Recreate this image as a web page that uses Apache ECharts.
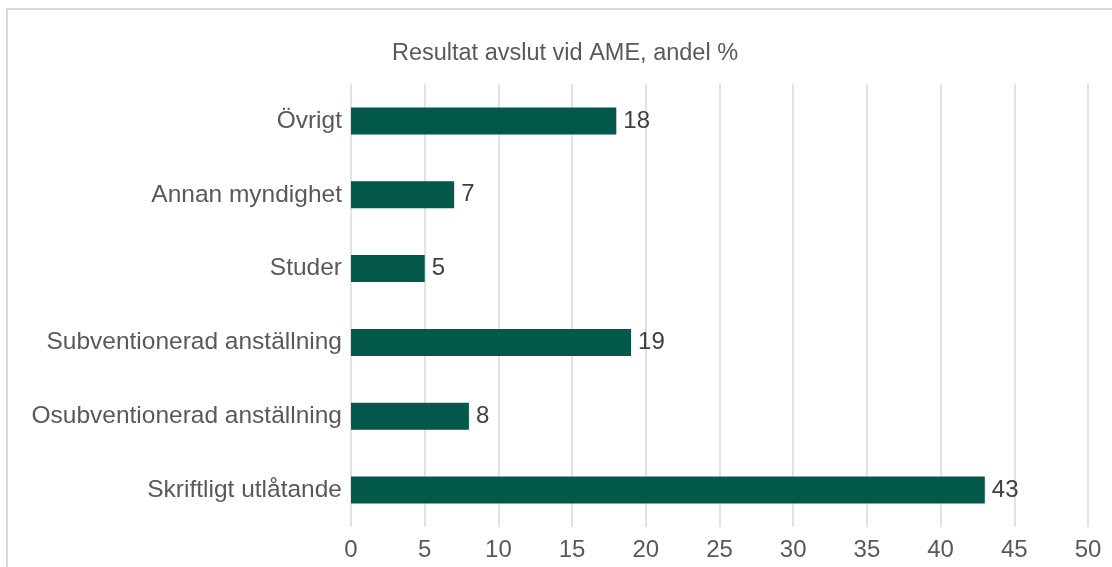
<!DOCTYPE html>
<html>
<head>
<meta charset="utf-8">
<script src="https://cdn.jsdelivr.net/npm/echarts@6/dist/echarts.min.js"></script>
<style>
  html, body { margin: 0; padding: 0; background: #fff; }
  #chart { width: 1112px; height: 567px; }
</style>
</head>
<body>
<div id="chart"></div>
<script>
const categories = ['Övrigt', 'Annan myndighet', 'Studer', 'Subventionerad anställning', 'Osubventionerad anställning', 'Skriftligt utlåtande'];
const values = [18, 7, 5, 19, 8, 43];
const xTicks = [0, 5, 10, 15, 20, 25, 30, 35, 40, 45, 50];
const titleText = 'Resultat avslut vid AME, andel %';

const font = '"Liberation Sans", Arial, sans-serif';
const chart = echarts.init(document.getElementById('chart'));
chart.setOption({
  animation: false,
  backgroundColor: '#fff',
  title: {
    text: titleText,
    left: 560,
    top: 37,
    textAlign: 'center',
    textStyle: { fontFamily: font, fontSize: 23.5, fontWeight: 'normal', color: '#595959' },
  },
  graphic: [{
    type: 'rect',
    shape: { x: 7, y: 9, width: 1200, height: 700 },
    style: { fill: 'none', stroke: '#d9d9d9', lineWidth: 2 },
    silent: true,
  }],
  grid: { left: 351, right: 24, top: 84, bottom: 40, containLabel: false },
  xAxis: {
    type: 'value',
    min: xTicks[0],
    max: xTicks[xTicks.length - 1],
    interval: 5,
    axisLine: { show: false },
    axisTick: { show: false },
    axisLabel: { fontFamily: font, fontSize: 24, color: '#595959', margin: 11 },
    splitLine: { lineStyle: { color: '#d9d9d9', width: 1.5 } },
  },
  yAxis: {
    type: 'category',
    data: categories,
    inverse: true,
    axisLine: { show: false },
    axisTick: { show: false },
    axisLabel: { fontFamily: font, fontSize: 24.5, color: '#595959', margin: 9 },
  },
  series: [{
    type: 'bar',
    data: values,
    barWidth: 27,
    itemStyle: { color: '#02584b' },
    label: {
      show: true,
      position: 'right',
      distance: 7,
      fontFamily: font,
      fontSize: 24,
      color: '#404040',
    },
  }],
});
</script>
</body>
</html>
